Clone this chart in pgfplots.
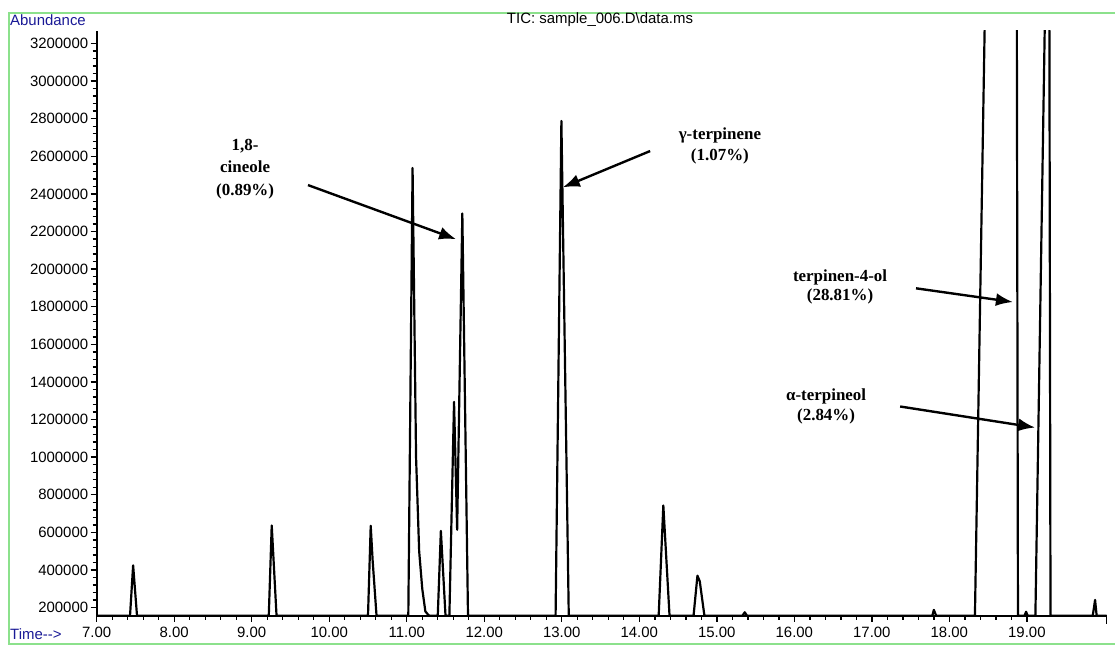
\documentclass[border=0pt]{standalone}
\usepackage{pgfplots}
\pgfplotsset{compat=1.18}
\usetikzlibrary{arrows.meta}
\usepackage{fontspec}
\setmainfont{Liberation Serif}
\setsansfont{Liberation Sans}
\definecolor{navy}{RGB}{25,25,150}
\definecolor{framegreen}{RGB}{140,225,140}
\begin{document}
\begin{tikzpicture}
\begin{axis}[
  at={(0,0)}, anchor=south west,
  scale only axis,
  width=1010bp, height=585bp,
  xmin=7, xmax=20.03,
  ymin=157000, ymax=3268000,
  axis lines*=left,
  axis line style={line width=2.2pt, black},
  xtick={7,8,...,19},
  extra x ticks={20.03}, extra x tick labels={},
  extra x tick style={major tick length=8bp},
  minor x tick num=4,
  ytick={200000,400000,...,3200000},
  minor y tick num=4,
  tick align=outside,
  major tick length=6bp,
  minor tick length=4bp,
  tick style={line width=1.4pt, black},
  scaled y ticks=false,
  scaled x ticks=false,
  /pgf/number format/assume math mode=true,
  yticklabel style={font=\sffamily\fontsize{15}{15}\selectfont, /pgf/number format/fixed, /pgf/number format/1000 sep={}, /pgf/number format/precision=0, xshift=1bp},
  xticklabel style={font=\sffamily\fontsize{15}{15}\selectfont, /pgf/number format/fixed, /pgf/number format/fixed zerofill, /pgf/number format/precision=2, yshift=-2bp},
  clip=true,
]
\addplot[black, line width=2.2pt, line join=round] coordinates {
(7.00,157000) (7.43,157000) (7.47,425000) (7.52,157000)
(9.22,157000) (9.258,637000) (9.32,157000)
(10.50,157000) (10.535,635000) (10.56,450000) (10.61,157000)
(11.02,157000) (11.075,2538000) (11.12,1000000) (11.16,500000) (11.20,300000) (11.24,180000) (11.28,160000) (11.30,157000)
(11.40,157000) (11.44,608000) (11.50,157000)
(11.55,157000) (11.61,1294000) (11.65,614000) (11.717,2296000) (11.79,157000)
(12.92,157000) (12.995,2788000) (13.09,157000)
(14.25,157000) (14.31,743000) (14.39,157000)
(14.70,157000) (14.75,370000) (14.78,340000) (14.84,157000)
(15.33,157000) (15.36,175000) (15.39,157000)
(17.78,157000) (17.80,188000) (17.83,157000)
(18.33,157000) (18.46,3400000) (18.87,3400000) (18.885,157000)
(18.97,157000) (18.99,178000) (19.01,157000)
(19.11,157000) (19.235,3400000) (19.29,3400000) (19.305,157000)
(19.85,157000) (19.88,241000) (19.90,157000)
(20.03,157000)
};
\node[font=\bfseries\fontsize{17}{23}\selectfont, align=center] at (axis cs:8.915,2532000) {1,8-\\cineole\\(0.89\%)};
\node[font=\bfseries\fontsize{17}{22}\selectfont, align=center] at (axis cs:15.04,2655000) {γ-terpinene\\(1.07\%)};
\node[font=\bfseries\fontsize{17}{19}\selectfont, align=center] at (axis cs:16.59,1904000) {terpinen-4-ol\\(28.81\%)};
\node[font=\bfseries\fontsize{17}{20}\selectfont, align=center] at (axis cs:16.41,1270000) {α-terpineol\\(2.84\%)};
\draw[-{Latex[length=17bp,width=13bp]}, line width=2.4pt] (axis cs:9.726,2447000) -- (axis cs:11.637,2159000);
\draw[-{Latex[length=17bp,width=13bp]}, line width=2.4pt] (axis cs:14.14,2628000) -- (axis cs:13.013,2435000);
\draw[-{Latex[length=17bp,width=13bp]}, line width=2.4pt] (axis cs:17.57,1898000) -- (axis cs:18.82,1825000);
\draw[-{Latex[length=17bp,width=13bp]}, line width=2.4pt] (axis cs:17.365,1269500) -- (axis cs:19.107,1157600);
\end{axis}
\draw[framegreen, line width=1.8pt] (-87.4bp,-28.3bp) rectangle (1030bp,603bp);
\node[font=\sffamily\fontsize{15}{15}\selectfont, anchor=center] at (503.3bp,595.7bp) {TIC: sample\_006.D\textbackslash data.ms};
\node[font=\sffamily\fontsize{15}{15}\selectfont, text=navy, anchor=west, inner sep=0pt] at (-86.7bp,595.7bp) {Abundance};
\node[font=\sffamily\fontsize{15}{15}\selectfont, text=navy, anchor=west, inner sep=0pt] at (-86.7bp,-18.3bp) {Time-{}->};
\pgfresetboundingbox
\path (-96.7bp,-30.3bp) rectangle (1018.3bp,615.7bp);
\end{tikzpicture}
\end{document}
